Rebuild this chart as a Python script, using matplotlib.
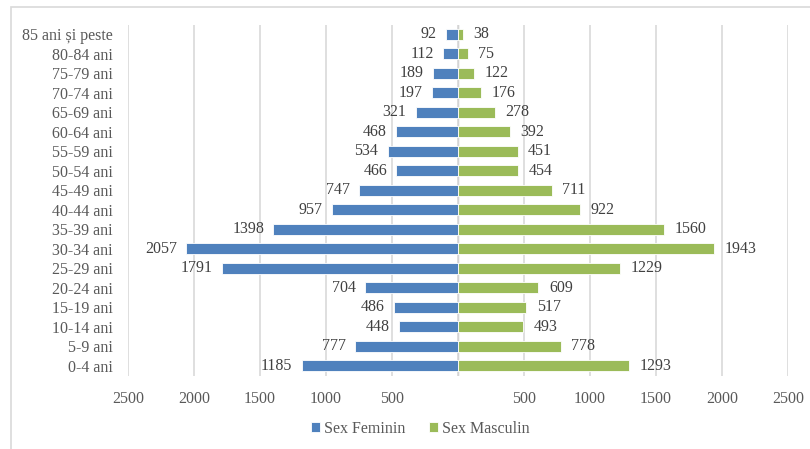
import matplotlib.pyplot as plt
from matplotlib.patches import Rectangle
import numpy as np

# age groups, bottom to top
varste = ['0-4 ani', '5-9 ani', '10-14 ani', '15-19 ani', '20-24 ani', '25-29 ani',
          '30-34 ani', '35-39 ani', '40-44 ani', '45-49 ani', '50-54 ani', '55-59 ani',
          '60-64 ani', '65-69 ani', '70-74 ani', '75-79 ani', '80-84 ani', '85 ani și peste']
feminin = [1185, 777, 448, 486, 704, 1791, 2057, 1398, 957, 747, 466, 534, 468, 321, 197, 189, 112, 92]
masculin = [1293, 778, 493, 517, 609, 1229, 1943, 1560, 922, 711, 454, 451, 392, 278, 176, 122, 75, 38]
x_ticks = [-2500, -2000, -1500, -1000, -500, 0, 500, 1000, 1500, 2000, 2500]

plt.rcParams['font.family'] = ['Liberation Serif', 'DejaVu Serif']
txt = '#595959'
fs = 11.5

fig = plt.figure(figsize=(8.1, 4.49), dpi=100)
ax = fig.add_axes([128 / 810, 1 - 375.5 / 449, 660 / 810, 351 / 449])

# chart border
fig.patches.append(Rectangle((11 / 810, -0.1), 1.1, 1 - 7 / 449 + 0.1, transform=fig.transFigure,
                             fill=False, edgecolor='#d9d9d9', linewidth=1.2))

y = np.arange(len(varste))
fem = -np.array(feminin)
bf = ax.barh(y, fem, height=0.57, color='#4F81BD', edgecolor='white', linewidth=0.6,
             label='Sex Feminin', zorder=3)
bm = ax.barh(y, masculin, height=0.57, color='#9BBB59', edgecolor='white', linewidth=0.6,
             label='Sex Masculin', zorder=3)

for yi, v in zip(y, feminin):
    ax.text(-v - 70, yi, str(v), ha='right', va='center', fontsize=fs, color='#404040')
for yi, v in zip(y, masculin):
    ax.text(v + 80, yi, str(v), ha='left', va='center', fontsize=fs, color='#404040')

ax.set_xlim(-2500, 2500)
ax.set_ylim(-0.5, len(varste) - 0.5)
ax.set_xticks(x_ticks)
ax.set_xticklabels([str(abs(t)) if t != 0 else '' for t in x_ticks])
ax.set_yticks(y)
ax.set_yticklabels(varste)
ax.tick_params(length=0, labelsize=fs, labelcolor=txt)
ax.tick_params(axis='x', pad=11)
ax.tick_params(axis='y', pad=11)
ax.grid(axis='x', color='#d9d9d9', linewidth=1.2, zorder=0)
ax.axvline(0, color='#bfbfbf', linewidth=1, zorder=1)
for s in ax.spines.values():
    s.set_visible(False)

fig.legend(handles=[bf, bm], loc='center', bbox_to_anchor=(420 / 810, 1 - 429 / 449), ncol=2,
           frameon=False, fontsize=fs, labelcolor=txt, handlelength=0.6, handleheight=0.6,
           handletextpad=0.2, columnspacing=1.5)

fig.savefig('out.png', dpi=100)
